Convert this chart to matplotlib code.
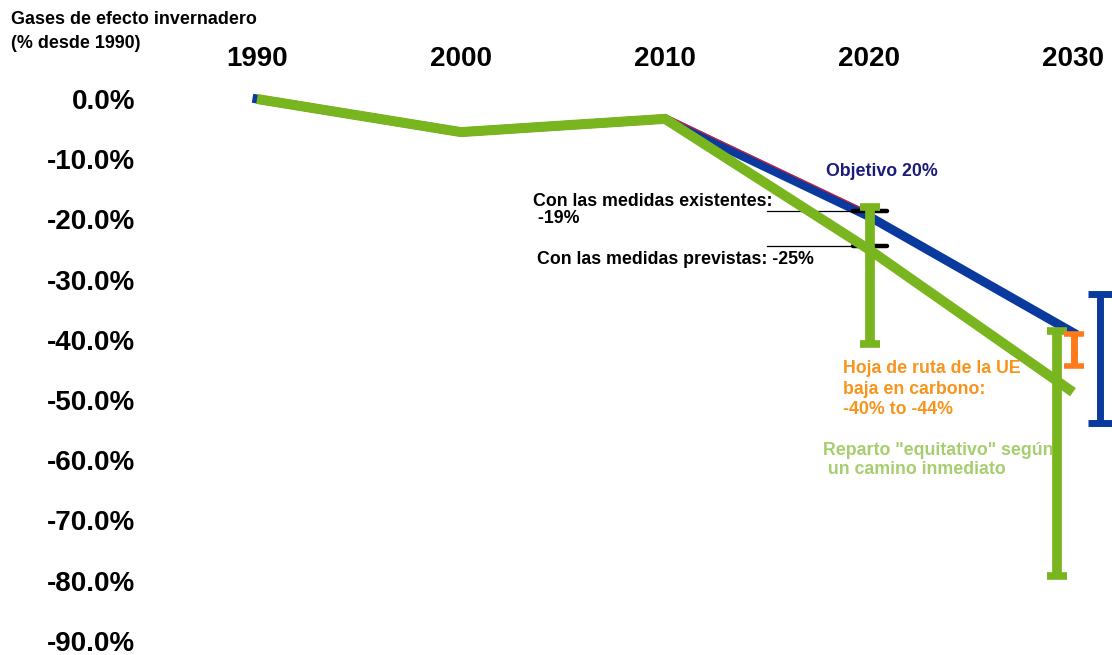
import matplotlib
matplotlib.use("Agg")
import matplotlib.pyplot as plt

# Emisiones de gases de efecto invernadero (% respecto a 1990)
years = [1990, 2000, 2010, 2020, 2030]
hist_years = [1990, 2000, 2010]
hist_vals = [0.0, -5.5, -3.3]

target_years = [2010, 2020, 2030]          # Objetivo 20% (azul)
target_vals = [-3.3, -19.5, -38.8]
red_years = [2010, 2020]                   # linea fina roja
red_vals = [-2.6, -18.7]
fair_years = [2010, 2020, 2030]            # camino inmediato (verde)
fair_vals = [-3.3, -25.0, -48.7]

# marcadores 2020: medidas existentes / previstas
measure_vals = [-18.6, -24.4]

# rangos (x, bajo, alto)
green_rng_x = [2020.05, 2029.2]
green_rng_lo = [-40.7, -79.2]
green_rng_hi = [-18.0, -38.5]
orange_rng_x = [2030.05]
orange_rng_lo = [-44.3]
orange_rng_hi = [-39.0]
blue_rng_x = [2031.3]
blue_rng_lo = [-53.8]
blue_rng_hi = [-32.4]

yticks = [0, -10, -20, -30, -40, -50, -60, -70, -80, -90]
ytick_labels = [f"{v:.1f}%" if v else "0.0%" for v in yticks]

GREEN = "#78B51E"
BLUE = "#0B3A9E"
ORANGE = "#FF7A1A"
NARROW = ["Liberation Sans Narrow", "Liberation Sans", "DejaVu Sans"]

W, H = 1112, 655
TOP = 74
fig = plt.figure(figsize=(W / 100, H / 100), dpi=100)
ax = fig.add_axes([140 / W, 0, 1 - 140 / W, 1 - TOP / H])

px_per_year = 20.4
px_per_pct = 6.02
ax.set_xlim(1990 - (257 - 140) / px_per_year, 1990 + (W - 257) / px_per_year)
ax.set_ylim(-(H - 99) / px_per_pct, (99 - TOP) / px_per_pct)

for s in ax.spines.values():
    s.set_visible(False)

ax.xaxis.tick_top()
ax.set_xticks(years)
ax.set_xticklabels([str(y) for y in years], fontsize=20, fontweight="bold",
                   family="Liberation Sans")
ax.set_yticks(yticks)
ax.set_yticklabels(ytick_labels, fontsize=20, fontweight="bold",
                   family="Liberation Sans")
ax.tick_params(length=0, pad=3.6)
ax.tick_params(axis="x", pad=1.5)

# lineas
ax.plot(hist_years + target_years[1:], hist_vals + target_vals[1:],
        color=BLUE, lw=6.5, solid_capstyle="projecting", zorder=2)
ax.plot(red_years, red_vals, color="#D0203A", lw=0.9, zorder=2.5)

# marcadores negros 2020
for v in measure_vals:
    ax.plot([2015.0, 2019.2], [v, v], color="black", lw=0.9, zorder=2.6)
    ax.plot([2019.2, 2020.9], [v, v], color="black", lw=3.2,
            solid_capstyle="round", zorder=2.6)

ax.plot(hist_years + fair_years[1:], hist_vals + fair_vals[1:],
        color=GREEN, lw=7.2, solid_capstyle="butt", zorder=3)


def rng(xs, lo, hi, color, lw, cap, capthick):
    mid = [(a + b) / 2 for a, b in zip(lo, hi)]
    err = [[m - a for m, a in zip(mid, lo)], [b - m for m, b in zip(mid, hi)]]
    ax.errorbar(xs, mid, yerr=err, fmt="none", ecolor=color, elinewidth=lw,
                capsize=cap, capthick=capthick, zorder=4)


rng(green_rng_x, green_rng_lo, green_rng_hi, GREEN, 7, 7.5, 5.5)
rng(orange_rng_x, orange_rng_lo, orange_rng_hi, ORANGE, 5, 7.2, 4)
rng(blue_rng_x, blue_rng_lo, blue_rng_hi, BLUE, 5, 8.5, 5)


def px(x, y):
    return x / W, 1 - y / H


fig.text(*px(11, 19), "Gases de efecto invernadero", fontsize=12.9,
         fontweight="bold", family=NARROW, va="center")
fig.text(*px(11, 44), "(% desde 1990)", fontsize=12.9,
         fontweight="bold", family=NARROW, va="center")
fig.text(*px(826, 172), "Objetivo 20%", fontsize=12.8, fontweight="bold",
         family=NARROW, color="#1B1B7A", va="center")
fig.text(*px(533, 210), "Con las medidas existentes:\n -19%", fontsize=12.8,
         fontweight="bold", family=NARROW, va="center", linespacing=1.05)
fig.text(*px(537, 260), "Con las medidas previstas: -25%", fontsize=12.8,
         fontweight="bold", family=NARROW, va="center")
fig.text(*px(843, 389), "Hoja de ruta de la UE\nbaja en carbono:\n-40% to -44%",
         fontsize=12.8, fontweight="bold", family=NARROW, color="#F7941D",
         va="center", linespacing=1.25)
fig.text(*px(823, 460), "Reparto \"equitativo\" según\n un camino inmediato",
         fontsize=12.8, fontweight="bold", family=NARROW, color="#A6CE6E",
         va="center", linespacing=1.1)

fig.savefig("out.png", dpi=100)
